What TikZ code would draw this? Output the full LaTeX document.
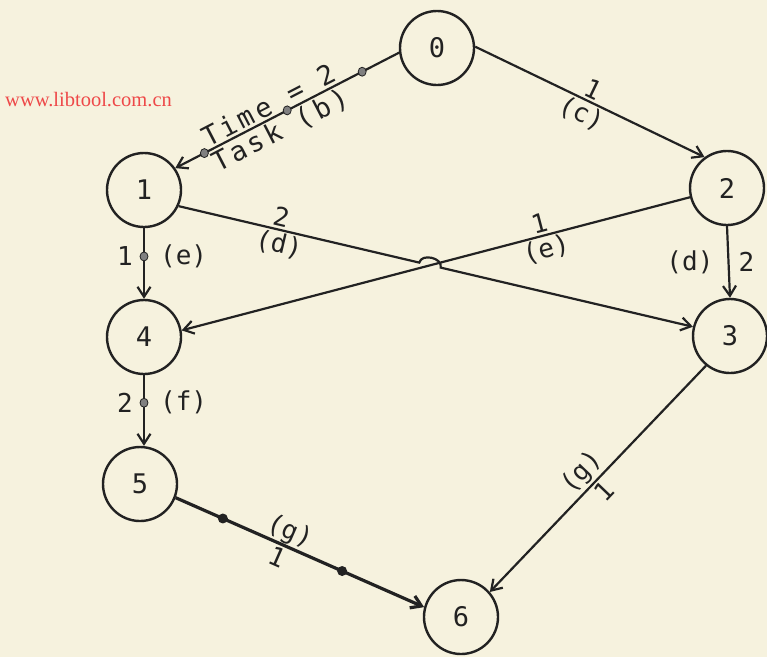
\documentclass[tikz,border=0pt]{standalone}
\usepackage{fontspec}
\newfontfamily\lbl{DejaVu Sans Mono}
\newfontfamily\lblsp{DejaVu Sans Mono}[LetterSpace=12]
\newfontfamily\wmfont{Liberation Serif}
\usetikzlibrary{arrows.meta,shapes.geometric}
\definecolor{paper}{RGB}{246,242,222}
\definecolor{ink}{RGB}{34,34,34}
\definecolor{wm}{RGB}{238,72,72}
\begin{document}
\begin{tikzpicture}[x=1pt,y=-1pt,
  state/.style={circle,draw=ink,line width=2.4pt,minimum size=74pt,inner sep=0pt,text=ink,font=\lbl\fontsize{27}{30}\selectfont},
  conn/.style={draw=ink,line width=2.2pt,-{Straight Barb[length=10pt,width=13pt]}},
  lab/.style={font=\lbl\fontsize{26}{28}\selectfont,text=ink,inner sep=2pt},
  biglab/.style={font=\lblsp\fontsize{27}{29}\selectfont,text=ink,inner sep=2pt},
  dotmark/.style={ellipse,fill=gray,draw=ink,line width=0.8pt,inner sep=0pt,minimum width=8pt,minimum height=9pt},
  bigdot/.style={circle,fill=ink,inner sep=0pt,minimum size=10pt},
]
\fill[paper] (0,0) rectangle (767,657);
\useasboundingbox (0,0) rectangle (767,657);

\node[state] (n0) at (437,48) {0};
\node[state] (n1) at (144,190) {1};
\node[state] (n2) at (727,188) {2};
\node[state] (n3) at (730,336) {3};
\node[state] (n4) at (144,337) {4};
\node[state] (n5) at (140,484) {5};
\node[state] (n6) at (461,617) {6};

% 0 -> 1
\draw[conn] (n0.187) -- (n1.35)
  node[dotmark,pos=0.165] (db1) {}
  node[dotmark,pos=0.5] (db2) {}
  node[dotmark,pos=0.87] (db3) {}
  node[biglab,sloped,above,pos=0.555] (lb1) {Time = 2}
  node[biglab,sloped,below,pos=0.56] (lb2) {Task (b)};

% 0 -> 2
\draw[conn] (n0.2) -- (n2.126)
  node[lab,sloped,above,pos=0.49] (lc1) {1}
  node[lab,sloped,below,pos=0.49] (lc2) {(c)};

% 1 -> 3 with hop
\coordinate (hopL) at (419.3,262.6);
\coordinate (hopR) at (440.7,267.6);
\draw[conn] (n1.335) --
  node[lab,sloped,above,pos=0.415] (ld1) {2}
  node[lab,sloped,below,pos=0.43] (ld2) {(d)}
  (hopL) .. controls +(2.3,-9.7) and +(2.3,-9.7) .. (hopR) -- (n3.166);

% 2 -> 4
\draw[conn] (n2.194) -- (n4.10)
  node[lab,sloped,above,pos=0.29] (le1) {1}
  node[lab,sloped,below,pos=0.29] (le2) {(e)};

% 2 -> 3
\draw[conn] (n2.south) -- (n3.north)
  node[lab,left=12pt,midway] (ld3) {(d)}
  node[lab,right=7pt,midway] (ld4) {2};

% 1 -> 4
\draw[conn] (n1.south) -- (n4.north)
  node[dotmark,pos=0.4] (de1) {}
  node[lab,left=8pt,pos=0.4] (le3) {1}
  node[lab,right=13pt,pos=0.4] (le4) {(e)};

% 4 -> 5
\draw[conn] (n4.south) -- (n4.south |- n5.north)
  node[dotmark,pos=0.39] (df1) {}
  node[lab,left=8pt,pos=0.39] (lf1) {2}
  node[lab,right=13pt,pos=0.39] (lf2) {(f)};

% 5 -> 6
\draw[conn,line width=3.2pt] (n5.339) -- (n6.165)
  node[bigdot,pos=0.19] (dg1) {}
  node[bigdot,pos=0.67] (dg2) {}
  node[lab,sloped,above,pos=0.435,inner sep=0pt] (lg1) {(g)}
  node[lab,sloped,below,pos=0.43] (lg2) {1};

% 3 -> 6
\draw[conn] (n3.231) -- (n6.41)
  node[lab,sloped,above,pos=0.52] (lg3) {(g)}
  node[lab,sloped,below,pos=0.515] (lg4) {1};

\node[anchor=west,text=wm,font=\wmfont\fontsize{20.5}{22}\selectfont,inner sep=0pt] (wmk) at (5,100) {www.libtool.com.cn};
\end{tikzpicture}
\end{document}
